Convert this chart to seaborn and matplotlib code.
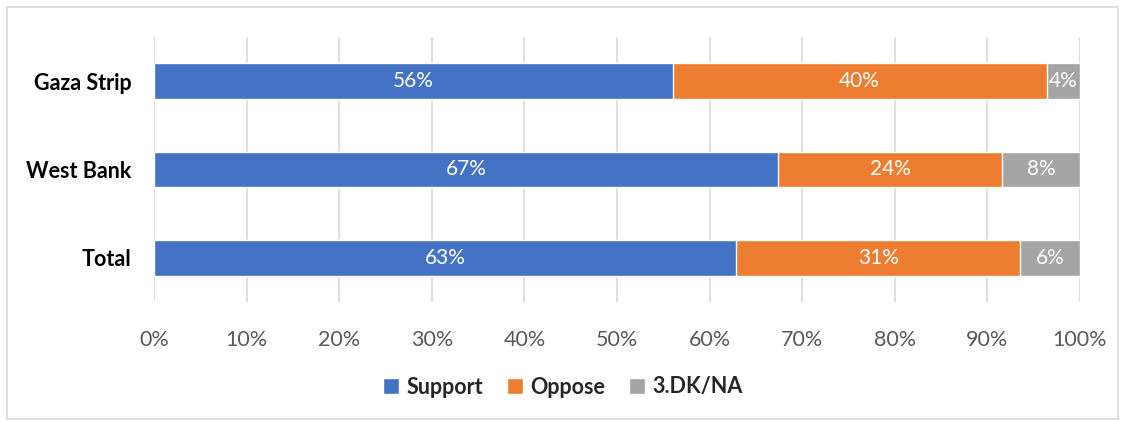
import numpy as np
import pandas as pd
import matplotlib.pyplot as plt
import seaborn as sns
from matplotlib.patches import Rectangle, Patch

# Data (percent)
regions = ["Gaza Strip", "West Bank", "Total"]
support = [56.0, 67.4, 62.9]
oppose = [40.4, 24.2, 30.6]
dkna = [3.6, 8.4, 6.5]
series_names = ["Support", "Oppose", "3.DK/NA"]
colors = ["#4472C4", "#ED7D31", "#A5A5A5"]

df = pd.DataFrame({"region": regions, "Support": support, "Oppose": oppose, "3.DK/NA": dkna})
df["c1"] = df["Support"]
df["c2"] = df["Support"] + df["Oppose"]
df["c3"] = df["c2"] + df["3.DK/NA"]

sns.set_style("white")
plt.rcParams['font.family'] = ['Lato', 'DejaVu Sans']

fig = plt.figure(figsize=(11.26, 4.21), dpi=100)
ax = fig.add_axes([154/1126, 1 - 302/421, (1080-154)/1126, (302-37)/421])

# stacked bars by overdrawing cumulative totals
for col, c in zip(["c3", "c2", "c1"], colors[::-1]):
    sns.barplot(data=df, x=col, y="region", order=regions, color=c, width=0.4,
                saturation=1, ax=ax, orient="h", zorder=3)

for i, r in df.iterrows():
    starts = [0, r["c1"], r["c2"]]
    for s, v in zip(starts, [r["Support"], r["Oppose"], r["3.DK/NA"]]):
        ax.text(s + v / 2, i, f"{v:.0f}%", ha="center", va="center",
                color="white", fontsize=15, zorder=4)

ax.set_xlim(0, 100)
ax.set_ylim(2.5, -0.5)
ax.set_xticks(np.arange(0, 101, 10))
ax.set_xticklabels([f"{t}%" for t in range(0, 101, 10)], fontsize=15.5, color="#595959")
ax.set_yticklabels(regions, fontsize=15.5, fontweight="bold", color="black")
ax.set_xlabel("")
ax.set_ylabel("")
ax.grid(axis="x", color="#D9D9D9", linewidth=1.2, zorder=0)
for s in ax.spines.values():
    s.set_visible(False)
ax.tick_params(axis="x", length=0, pad=20)
ax.tick_params(axis="y", length=0, pad=16)

handles = [Patch(facecolor=c, label=n) for c, n in zip(colors, series_names)]
leg = fig.legend(handles=handles, loc="center", bbox_to_anchor=(0.5, 1 - 387/421), ncol=3,
                 frameon=False, prop={"size": 15.5, "weight": "bold"},
                 handlelength=0.75, handleheight=0.75, columnspacing=1.1, handletextpad=0.35)

fig.patches.append(Rectangle((7/1126, 0.004), 1111/1126, 1 - 7/421 - 0.004, transform=fig.transFigure,
                             fill=False, edgecolor="#D9D9D9", linewidth=1.2))

fig.savefig("out.png", dpi=100)
